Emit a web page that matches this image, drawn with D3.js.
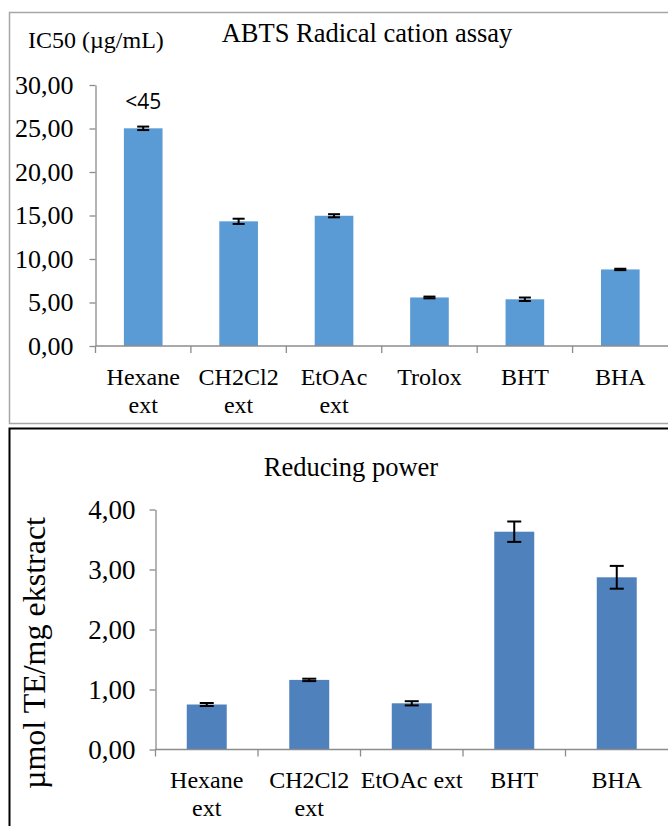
<!DOCTYPE html>
<html>
<head>
<meta charset="utf-8">
<script src="https://cdn.jsdelivr.net/npm/d3@7"></script>
<style>
  html, body { margin: 0; padding: 0; background: #fff; overflow: hidden; }
  svg text { font-family: "Liberation Serif", "Times New Roman", serif; fill: #000; }
</style>
</head>
<body>
<svg id="chart" width="668" height="826"></svg>
<script>
// ---- ABTS Radical cation assay (IC50, µg/mL) ----
const abtsCategories = [["Hexane", "ext"], ["CH2Cl2", "ext"], ["EtOAc", "ext"], ["Trolox"], ["BHT"], ["BHA"]];
const abtsValues = [25.02, 14.33, 14.97, 5.58, 5.37, 8.80];
const abtsErrors = [0.20, 0.30, 0.18, 0.10, 0.20, 0.08];
const abtsTicks = [0, 5, 10, 15, 20, 25, 30];
const abtsNote = "<45";

// ---- Reducing power (µmol TE/mg ekstract) ----
const rpCategories = [["Hexane", "ext"], ["CH2Cl2", "ext"], ["EtOAc ext"], ["BHT"], ["BHA"]];
const rpValues = [0.75, 1.16, 0.77, 3.63, 2.87];
const rpErrors = [0.025, 0.02, 0.035, 0.17, 0.19];
const rpTicks = [0, 1, 2, 3, 4];

const SERIF = '"Liberation Serif", "Times New Roman", serif';
const svg = d3.select("#chart");
const fmt = d => d3.format(".2f")(d).replace(".", ",");
const axisColor = "#8c8c8c";

// Panel borders
svg.append("rect").attr("x", 9.5).attr("y", 12.5).attr("width", 720).attr("height", 411)
  .attr("fill", "none").attr("stroke", "#a6a6a6").attr("stroke-width", 1.5);
svg.append("rect").attr("x", 9.5).attr("y", 428.5).attr("width", 720).attr("height", 420)
  .attr("fill", "none").attr("stroke", "#000").attr("stroke-width", 2);

function drawChart(cfg) {
  const g = svg.append("g");
  const x = d3.scaleBand().domain(d3.range(cfg.cats.length))
    .range([cfg.left, cfg.right]).paddingInner(cfg.pad).paddingOuter(cfg.pad / 2);
  const y = d3.scaleLinear().domain(cfg.domain).range([cfg.bottom, cfg.top]);
  const step = x.step();

  // Y axis
  const yAxis = d3.axisLeft(y).tickValues(cfg.ticks).tickFormat(fmt).tickSize(6).tickSizeOuter(0).tickPadding(cfg.yPad);
  const ya = g.append("g").attr("transform", `translate(${cfg.left},0)`).call(yAxis)
    .attr("font-family", SERIF).attr("font-size", cfg.yFont);
  ya.select(".domain").attr("stroke", axisColor).attr("stroke-width", 1.3);
  ya.selectAll(".tick line").attr("stroke", axisColor).attr("stroke-width", 1.3);
  ya.selectAll(".tick text").attr("fill", "#000").attr("font-family", SERIF).attr("font-size", cfg.yFont);

  // Bars
  g.selectAll("rect.bar").data(cfg.values).join("rect").attr("class", "bar")
    .attr("x", (d, i) => x(i)).attr("width", x.bandwidth())
    .attr("y", d => y(d)).attr("height", d => y(0) - y(d))
    .attr("fill", cfg.color);

  // Error bars
  const eb = g.selectAll("g.err").data(cfg.values).join("g").attr("class", "err");
  eb.append("line")
    .attr("x1", (d, i) => x(i) + x.bandwidth() / 2).attr("x2", (d, i) => x(i) + x.bandwidth() / 2)
    .attr("y1", (d, i) => y(d + cfg.errors[i])).attr("y2", (d, i) => y(d - cfg.errors[i]))
    .attr("stroke", "#000").attr("stroke-width", 2);
  [1, -1].forEach(s => {
    eb.append("line")
      .attr("x1", (d, i) => x(i) + x.bandwidth() / 2 - cfg.cap).attr("x2", (d, i) => x(i) + x.bandwidth() / 2 + cfg.cap)
      .attr("y1", (d, i) => y(d + s * cfg.errors[i])).attr("y2", (d, i) => y(d + s * cfg.errors[i]))
      .attr("stroke", "#000").attr("stroke-width", 2);
  });

  // X axis line + boundary ticks
  g.append("line").attr("x1", cfg.left).attr("x2", cfg.right + 2)
    .attr("y1", y(0)).attr("y2", y(0)).attr("stroke", axisColor).attr("stroke-width", 1.3);
  d3.range(cfg.cats.length).forEach(i => {
    const bx = cfg.left + i * step;
    g.append("line").attr("x1", bx).attr("x2", bx).attr("y1", y(0)).attr("y2", y(0) + 7)
      .attr("stroke", axisColor).attr("stroke-width", 1.3);
  });

  // Category labels
  cfg.cats.forEach((lines, i) => {
    const cx = x(i) + x.bandwidth() / 2;
    lines.forEach((ln, k) => {
      g.append("text").attr("x", cx).attr("y", y(0) + cfg.labelOffset + k * 28)
        .attr("text-anchor", "middle").attr("font-size", cfg.tickFont).text(ln);
    });
  });

  // Title
  g.append("text").attr("x", cfg.titleX).attr("y", cfg.titleY).attr("text-anchor", "middle")
    .attr("font-size", cfg.titleFont).text(cfg.title);
  return { x, y, g };
}

const abtsChart = drawChart({
  cats: abtsCategories, values: abtsValues, errors: abtsErrors, ticks: abtsTicks,
  domain: [0, 30], left: 95.5, right: 668, top: 85, bottom: 346, pad: 0.595,
  color: "#5b9bd5", cap: 6, tickFont: 24, yFont: 26, yPad: 16, labelOffset: 39,
  title: "ABTS Radical cation assay", titleX: 367, titleY: 42, titleFont: 26.5
});
abtsChart.g.append("text").attr("x", 28).attr("y", 48).attr("font-size", 24).text("IC50 (µg/mL)");
abtsChart.g.append("text").attr("x", abtsChart.x(0) + abtsChart.x.bandwidth() / 2).attr("y", 109)
  .attr("text-anchor", "middle").attr("font-size", 21)
  .style("font-family", '"Open Sans", "Liberation Sans", sans-serif').text(abtsNote);

const rpChart = drawChart({
  cats: rpCategories, values: rpValues, errors: rpErrors, ticks: rpTicks,
  domain: [0, 4], left: 155.5, right: 668, top: 509.5, bottom: 749.5, pad: 0.61,
  color: "#4f81bd", cap: 7, tickFont: 24, yFont: 27, yPad: 14, labelOffset: 38,
  title: "Reducing power", titleX: 351, titleY: 476, titleFont: 26.5
});
rpChart.g.append("text").attr("transform", "translate(45,653) rotate(-90)")
  .attr("text-anchor", "middle").attr("font-size", 32).text("µmol TE/mg ekstract");
</script>
</body>
</html>
